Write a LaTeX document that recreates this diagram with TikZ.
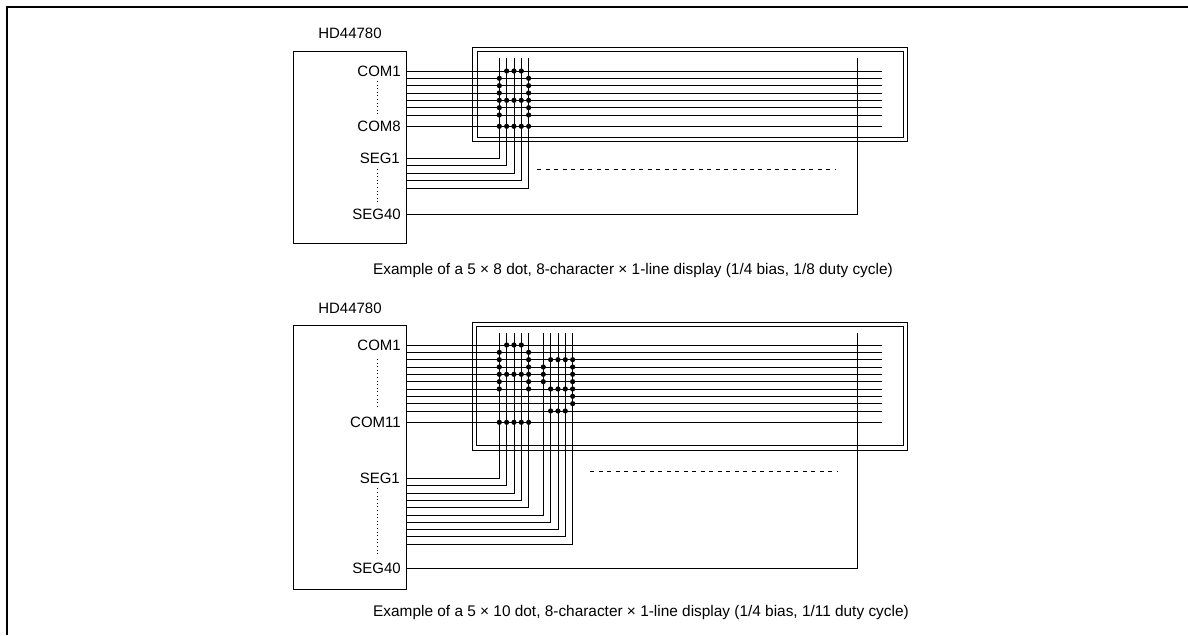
\documentclass[tikz,border=0pt]{standalone}
\usepackage{fontspec}
\setmainfont{Liberation Sans}
\begin{document}
\begin{tikzpicture}[x=1pt,y=-1pt,
  wire/.style={line width=0.9pt},
  frameline/.style={line width=2pt},
  chipbox/.style={draw,line width=0.9pt,inner sep=0pt},
  lbl/.style={anchor=east,inner sep=0pt,font=\fontsize{15}{18}\selectfont},
  ttl/.style={anchor=center,inner sep=0pt,font=\fontsize{15}{18}\selectfont},
  captext/.style={anchor=base west,inner sep=0pt,font=\fontsize{15.4}{18}\selectfont},
  pix/.style={fill=black},
  dots/.style={line width=0.9pt,dash pattern=on 1pt off 2.6pt},
  dashes/.style={line width=0.9pt,dash pattern=on 4pt off 4.5pt}]
\useasboundingbox (0,0) rectangle (1188,635);
% outer frame (top and left edges)
\coordinate (fc) at (6.7,6.7);
\coordinate (fr) at (1188,6.7);
\coordinate (fb) at (6.7,635);
\draw[frameline] (fb) -- (fc) -- (fr);

%================ TOP DIAGRAM ================
\node[ttl] (titleA) at (350,33) {HD44780};
\node[chipbox,minimum width=113pt,minimum height=192pt] (chipA) at (349.5,147) {};
% display frame
\draw[wire] (472.3,47.5) rectangle (907.7,141.3);
\draw[wire] (477,51.8) rectangle (903.3,137.2);
% rows and columns
\foreach \i/\y in {1/71,2/78.33,3/85.67,4/93,5/100.33,6/107.67,7/115,8/126.3}
  \coordinate (tr\i) at (0,\y);
\foreach \j in {1,...,5}
  \coordinate (tc\j) at ({499.3+7.33*(\j-1)},0);
\coordinate (ttop) at (0,58.3);
\coordinate (tend) at (882,0);
\coordinate (tright) at (857.7,0);
\foreach \i in {1,...,8}
  \draw[wire] (chipA.east |- tr\i) -- (tend |- tr\i);
\foreach \k/\y in {1/158.3,2/165.8,3/173.3,4/180.8,5/188.3}{
  \coordinate (ts\k) at (0,\y);
  \draw[wire] (chipA.east |- ts\k) -- (tc\k |- ts\k) -- (tc\k |- ttop);
}
\coordinate (ts40) at (0,214.3);
\draw[wire] (chipA.east |- ts40) -- (tright |- ts40) -- (tright |- ttop);
% labels
\node[lbl] (tcom1) at (401,71) {COM1};
\node[lbl] (tcom8) at (401,126.3) {COM8};
\node[lbl] (tseg1) at (400,158.3) {SEG1};
\node[lbl] (tseg40) at (401,214.3) {SEG40};
\coordinate (tda) at (377.7,81);
\coordinate (tdb) at (377.7,117);
\coordinate (tdc) at (377.7,169);
\coordinate (tdd) at (377.7,204);
\draw[dots] (tda) -- (tdb);
\draw[dots] (tdc) -- (tdd);
\coordinate (tdl) at (537,169);
\coordinate (tdr) at (836,169);
\draw[dashes] (tdl) -- (tdr);
% character A
\foreach \c/\r in {2/1,3/1,4/1,1/2,5/2,1/3,5/3,1/4,5/4,1/5,2/5,3/5,4/5,5/5,1/6,5/6,1/7,5/7,1/8,2/8,3/8,4/8,5/8}
  \fill[pix] (tc\c |- tr\r) circle (2.6);
\node[captext] (capA) at (373,274.5) {Example of a 5 × 8 dot, 8-character × 1-line display (1/4 bias, 1/8 duty cycle)};

%================ BOTTOM DIAGRAM ================
\node[ttl] (titleB) at (350,308.3) {HD44780};
\node[chipbox,minimum width=113pt,minimum height=264.3pt] (chipB) at (349.5,457.15) {};
\draw[wire] (472.3,322.3) rectangle (907.7,450);
\draw[wire] (476.7,326.7) rectangle (903.3,445.5);
\foreach \i in {1,...,10}
  \coordinate (br\i) at (0,{345+7.33*(\i-1)});
\coordinate (br11) at (0,422.3);
\foreach \j in {1,...,5}{
  \coordinate (bc\j) at ({499.3+7.33*(\j-1)},0);
  \coordinate (bd\j) at ({543.3+7.33*(\j-1)},0);
}
\coordinate (btop) at (0,333.3);
\coordinate (bend) at (882,0);
\coordinate (bright) at (857.7,0);
\foreach \i in {1,...,11}
  \draw[wire] (chipB.east |- br\i) -- (bend |- br\i);
\foreach \k in {1,...,5}{
  \coordinate (bs\k) at (0,{478.3+7.33*(\k-1)});
  \draw[wire] (chipB.east |- bs\k) -- (bc\k |- bs\k) -- (bc\k |- btop);
}
\foreach \k in {1,...,5}{
  \coordinate (bt\k) at (0,{478.3+7.33*(\k+4)});
  \draw[wire] (chipB.east |- bt\k) -- (bd\k |- bt\k) -- (bd\k |- btop);
}
\coordinate (bs40) at (0,568.3);
\draw[wire] (chipB.east |- bs40) -- (bright |- bs40) -- (bright |- btop);
\node[lbl] (bcom1) at (401,345.7) {COM1};
\node[lbl] (bcom11) at (401,422.7) {COM11};
\node[lbl] (bseg1) at (400,478.3) {SEG1};
\node[lbl] (bseg40) at (401,568.3) {SEG40};
\coordinate (bda) at (377.7,359);
\coordinate (bdb) at (377.7,407);
\coordinate (bdc) at (377.7,488.3);
\coordinate (bdd) at (377.7,554);
\draw[dots] (bda) -- (bdb);
\draw[dots] (bdc) -- (bdd);
\coordinate (bdl) at (590,471);
\coordinate (bdr) at (838,471);
\draw[dashes] (bdl) -- (bdr);
% character A (5x10 + cursor)
\foreach \c/\r in {2/1,3/1,4/1,1/2,5/2,1/3,5/3,1/4,5/4,1/5,2/5,3/5,4/5,5/5,1/6,5/6,1/7,5/7,1/11,2/11,3/11,4/11,5/11}
  \fill[pix] (bc\c |- br\r) circle (2.6);
% character g
\foreach \c/\r in {2/3,3/3,4/3,5/3,1/4,5/4,1/5,5/5,1/6,5/6,2/7,3/7,4/7,5/7,5/8,5/9,2/10,3/10,4/10}
  \fill[pix] (bd\c |- br\r) circle (2.6);
\node[captext] (capB) at (373,616) {Example of a 5 × 10 dot, 8-character × 1-line display (1/4 bias, 1/11 duty cycle)};
\end{tikzpicture}
\end{document}
